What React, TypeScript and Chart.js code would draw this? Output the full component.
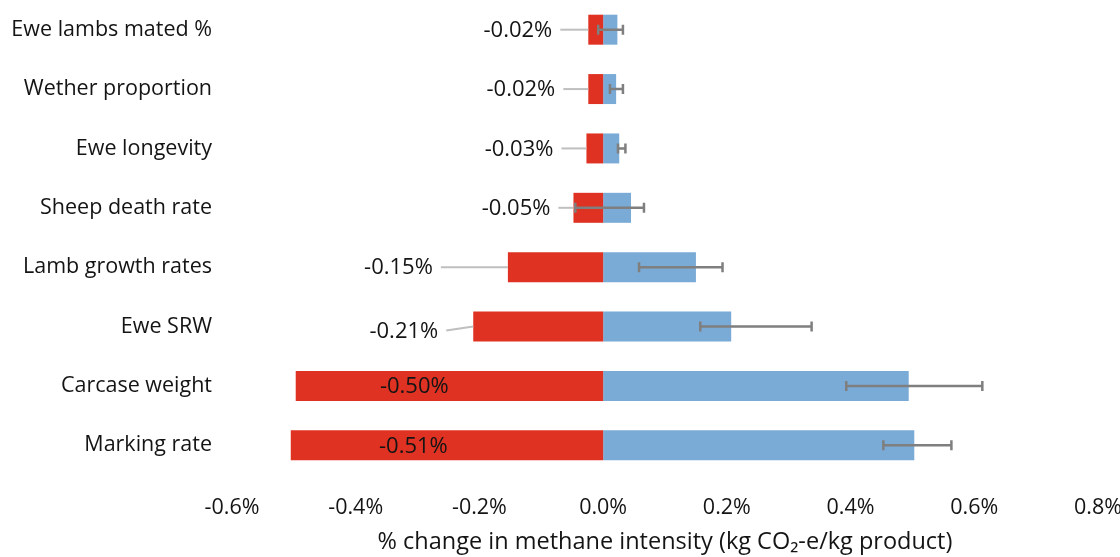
import React, { useEffect, useRef } from "react";
import { Chart, registerables } from "chart.js";

Chart.register(...registerables);

const categories = [
  "Ewe lambs mated %",
  "Wether proportion",
  "Ewe longevity",
  "Sheep death rate",
  "Lamb growth rates",
  "Ewe SRW",
  "Carcase weight",
  "Marking rate",
];
const decreaseValues = [-0.024, -0.024, -0.027, -0.048, -0.154, -0.21, -0.497, -0.505];
const increaseValues = [0.023, 0.021, 0.026, 0.045, 0.15, 0.207, 0.494, 0.503];
const errorLow = [-0.008, 0.011, 0.024, -0.045, 0.058, 0.157, 0.393, 0.453];
const errorHigh = [0.032, 0.032, 0.036, 0.066, 0.193, 0.337, 0.613, 0.563];
const decreaseLabels = ["-0.02%", "-0.02%", "-0.03%", "-0.05%", "-0.15%", "-0.21%", "-0.50%", "-0.51%"];
const xTickValues = [-0.6, -0.4, -0.2, 0.0, 0.2, 0.4, 0.6, 0.8];
const xAxisTitle = "% change in methane intensity (kg CO\u2082-e/kg product)";

const FONT = "'Open Sans', 'DejaVu Sans', sans-serif";
const RED = "#DF3222";
const BLUE = "#7AAAD6";
const TEXT = "#141414";

// label placement (pixels): label right edge = bar end - gap
const labelGap = [36, 33, 33, 23, 75, 35, -153, -157];
const labelDy = [0, 0, 0, 0, 0, 4, 0, 0];

const overlayPlugin = {
  id: "overlay",
  afterDatasetsDraw(chart: any) {
    const ctx = chart.ctx;
    const xs = chart.scales.x;
    const ys = chart.scales.y;
    ctx.save();
    // error bars
    ctx.strokeStyle = "#7F7F7F";
    ctx.lineWidth = 2.5;
    for (let i = 0; i < categories.length; i++) {
      const y = ys.getPixelForValue(i);
      const x1 = xs.getPixelForValue(errorLow[i]);
      const x2 = xs.getPixelForValue(errorHigh[i]);
      ctx.beginPath();
      ctx.moveTo(x1, y);
      ctx.lineTo(x2, y);
      ctx.moveTo(x1, y - 5);
      ctx.lineTo(x1, y + 5);
      ctx.moveTo(x2, y - 5);
      ctx.lineTo(x2, y + 5);
      ctx.stroke();
    }
    // data labels with leader lines
    ctx.font = "22px " + FONT;
    ctx.textAlign = "right";
    ctx.textBaseline = "middle";
    for (let i = 0; i < categories.length; i++) {
      const y = ys.getPixelForValue(i);
      const barEnd = xs.getPixelForValue(decreaseValues[i]);
      const right = barEnd - labelGap[i];
      const ly = y + labelDy[i];
      if (labelGap[i] > 0) {
        ctx.strokeStyle = "#BFBFBF";
        ctx.lineWidth = 2;
        ctx.beginPath();
        ctx.moveTo(right + 8, ly);
        ctx.lineTo(barEnd, y);
        ctx.stroke();
      }
      ctx.fillStyle = TEXT;
      ctx.fillText(decreaseLabels[i], right, ly + 1);
    }
    // x axis title
    const ca = chart.chartArea;
    ctx.textAlign = "center";
    ctx.font = "23.5px " + FONT;
    ctx.fillText(xAxisTitle, ca.left + ca.width / 2, 542);
    ctx.restore();
  },
};

export default function App() {
  const ref = useRef<HTMLCanvasElement | null>(null);
  useEffect(() => {
    document.body.style.margin = "0";
    const chart = new Chart(ref.current as HTMLCanvasElement, {
      type: "bar",
      data: {
        labels: categories,
        datasets: [
          { label: "Decrease", data: decreaseValues, backgroundColor: RED, barPercentage: 0.505, categoryPercentage: 1 },
          { label: "Increase", data: increaseValues, backgroundColor: BLUE, barPercentage: 0.505, categoryPercentage: 1 },
        ],
      },
      options: {
        indexAxis: "y",
        animation: false,
        responsive: false,
        layout: { padding: { left: 0, right: 22, top: 0, bottom: 0 } },
        plugins: { legend: { display: false }, tooltip: { enabled: false } },
        scales: {
          x: {
            stacked: true,
            min: -0.6,
            max: 0.8,
            afterBuildTicks: (s: any) => {
              s.ticks = xTickValues.map((v) => ({ value: v }));
            },
            afterFit: (s: any) => {
              s.height = 82;
              s.paddingRight = 0;
              s.paddingLeft = 0;
            },
            grid: { display: false, drawTicks: false },
            border: { display: false },
            ticks: {
              padding: 20,
              color: TEXT,
              font: { family: FONT, size: 21.5 },
              callback: (v: any) => Number(v).toFixed(1) + "%",
            },
          },
          y: {
            stacked: true,
            afterFit: (s: any) => {
              s.width = 232;
              s.paddingTop = 0;
              s.paddingBottom = 0;
            },
            grid: { display: false, drawTicks: false },
            border: { display: false },
            ticks: {
              padding: 20,
              color: TEXT,
              font: { family: FONT, size: 21.5 },
            },
          },
        },
      },
      plugins: [overlayPlugin],
    } as any);
    return () => chart.destroy();
  }, []);
  return (
    <div style={{ width: 1120, height: 557, background: "#fff" }}>
      <canvas ref={ref} width={1120} height={557} />
    </div>
  );
}
